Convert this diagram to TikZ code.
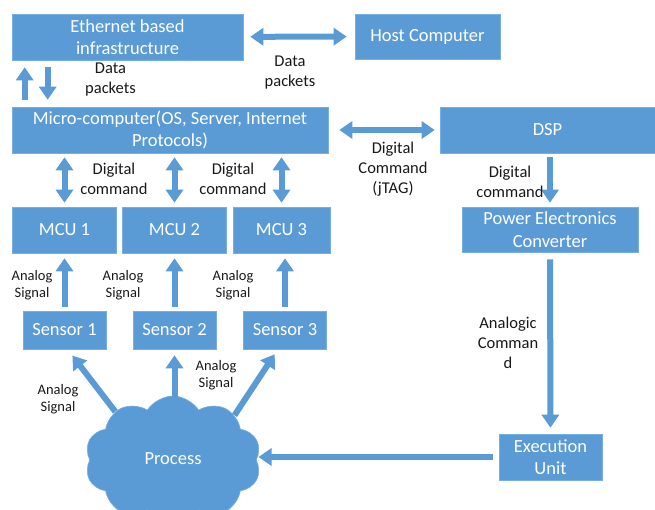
\documentclass[tikz,border=0pt]{standalone}
\usepackage{fontspec}
\setmainfont{Carlito}
\usepackage{tikz}
\usetikzlibrary{arrows.meta, positioning, shapes.symbols, calc}
\usepackage{xcolor}
\definecolor{boxblue}{RGB}{91, 155, 213}
\definecolor{boxedge}{RGB}{120, 175, 225}
\definecolor{labelgray}{RGB}{25, 25, 25}

\begin{document}
\begin{tikzpicture}[
      x=1pt, y=-1pt,
      box/.style={rectangle, fill=boxblue, draw=boxedge, line width=0.6pt, text=white, font=\fontsize{18.5}{22.5}\selectfont, align=center, inner sep=2pt},
      lbl/.style={text=labelgray, font=\fontsize{16.5}{20}\selectfont, align=center, inner sep=0pt},
      small/.style={text=labelgray, font=\fontsize{14.5}{16.5}\selectfont, align=center, inner sep=0pt},
      arr/.style={line width=6pt, boxblue, -{Triangle[width=17pt,length=13pt]}},
      dbl/.style={line width=6pt, boxblue, {Triangle[width=17pt,length=13pt]}-{Triangle[width=17pt,length=13pt]}}
    ]
      \useasboundingbox[fill=white] (0,0) rectangle (655,510);

      % Top row
      \node[box, minimum width=231pt, minimum height=46pt] (eth) at (127.5,37) {Ethernet based\\infrastructure};
      \node[box, minimum width=145pt, minimum height=45pt] (host) at (427.5,36.5) {Host Computer};
      \draw[dbl, shorten <=7pt, shorten >=8pt] (eth) -- (host);
      \node[lbl] (lpk1) at (290,73) {Data\\packets};

      % Micro-computer and DSP
      \node[box, minimum width=316pt, minimum height=46pt] (micro) at (170,130) {Micro-computer(OS, Server, Internet\\Protocols)};
      \node[box, minimum width=215pt, minimum height=46pt] (dsp) at (547.5,130) {DSP};
      \draw[arr, shorten <=7pt, shorten >=7pt] ([xshift=13pt]micro.north west) -- ([xshift=13pt]eth.south west);
      \draw[arr, shorten <=7pt, shorten >=7pt] ([xshift=36pt]eth.south west) -- ([xshift=36pt]micro.north west);
      \node[lbl] (lpk2) at (110.5,80) {Data\\packets};
      \draw[dbl, shorten <=11pt, shorten >=5pt] (micro) -- (dsp);
      \node[lbl] (ljtag) at (393,169) {Digital\\Command\\(jTAG)};

      % MCUs and sensors
      \foreach \i/\x/\w in {1/64.5/104, 2/174.5/104, 3/281.5/97} {
        \node[box, minimum width=\w pt, minimum height=46pt] (mcu\i) at (\x,230) {MCU \i};
        \draw[dbl, shorten <=4pt, shorten >=4pt] (micro.south -| mcu\i) -- (mcu\i);
      }
      \foreach \i/\x in {1/64.5, 2/174.5, 3/285} {
        \node[box, minimum width=83pt, minimum height=38pt] (s\i) at (\x,330) {Sensor \i};
        \draw[arr, shorten <=4pt, shorten >=5pt] (s\i) -- (s\i.north |- mcu\i.south);
      }
      \node[lbl] (ldc1) at (114,179) {Digital\\command};
      \node[lbl] (ldc2) at (233,179) {Digital\\command};
      \node[small] (las1) at (32,285) {Analog\\Signal};
      \node[small] (las2) at (123,285) {Analog\\Signal};
      \node[small] (las3) at (233,285) {Analog\\Signal};

      % Power stage
      \node[box, minimum width=176pt, minimum height=45pt] (pec) at (550,229.5) {Power Electronics\\Converter};
      \draw[arr, shorten <=4pt, shorten >=4pt] (dsp.south -| pec.north) -- (pec);
      \node[lbl] (ldc3) at (510,182) {Digital\\command};
      \node[box, minimum width=103pt, minimum height=46pt] (exec) at (550.5,457) {Execution\\Unit};
      \draw[arr, shorten <=7pt, shorten >=6pt] (pec) -- (exec);
      \node[lbl] (lac) at (508,343) {Analogic\\Comman\\d};

      % Process
      \node[cloud, cloud puffs=10, cloud puff arc=115, aspect=1.4, fill=boxblue, draw=boxedge, line width=0.6pt, minimum width=176pt, minimum height=128pt, text=white, font=\fontsize{18.5}{22.5}\selectfont] (proc) at (173,460) {\raisebox{3pt}{Process}};
      \draw[arr, shorten <=6pt, shorten >=2pt] (exec) -- (proc.east |- exec);
      \draw[arr, shorten >=8pt] (proc.140) -- ([xshift=3pt]s1.south);
      \draw[arr, shorten <=-6pt, shorten >=6pt] (s2.south |- proc.north) -- (s2);
      \draw[arr, shorten >=6pt] (proc.36) -- ([xshift=-7pt]s3.south);
      \node[small] (las4) at (58,399) {Analog\\Signal};
      \node[small] (las5) at (216,375) {Analog\\Signal};
    \end{tikzpicture}
\end{document}
